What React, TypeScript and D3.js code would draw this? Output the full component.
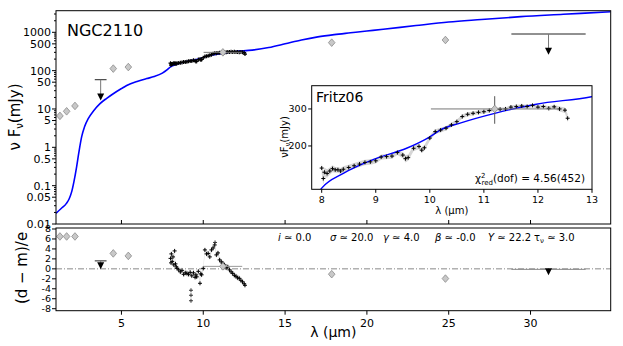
import React from "react";
import * as d3 from "d3";

const W = 623;
const H = 346;
const FONT = "DejaVu Sans, Verdana, sans-serif";

// best-fit model (blue line), wavelength in micron, flux in mJy
const modelWave = [1.0, 1.3, 1.65, 1.8, 1.96, 2.1, 2.26, 2.4, 2.57, 2.75, 2.97, 3.3, 3.69, 4.1, 4.5, 5.0, 5.32, 6.0, 6.54, 7.0, 7.5, 7.8, 8.0, 8.4, 9.0, 9.57, 10.0, 10.19, 10.56, 11.2, 11.97, 12.99, 14.0, 15.0, 16.0, 17.0, 18.0, 19.0, 20.0, 21.0, 23.0, 25.0, 27.0, 29.4, 32.0, 34.9];
const modelFlux = [0.019, 0.025, 0.035, 0.045, 0.07, 0.13, 0.31, 0.75, 1.9, 3.5, 5.6, 9, 13.8, 19, 25, 34, 41, 53, 62, 70, 86, 106, 126, 148, 174, 195, 221, 238, 257, 286, 316, 343, 400, 500, 630, 760, 870, 970, 1080, 1200, 1500, 1850, 2150, 2560, 2950, 3450];

// Fritz06 spectrum
const specWave = [8.0, 8.03, 8.05, 8.1, 8.15, 8.2, 8.25, 8.3, 8.35, 8.4, 8.5, 8.6, 8.7, 8.8, 8.9, 9.0, 9.1, 9.2, 9.3, 9.4, 9.5, 9.55, 9.6, 9.7, 9.8, 9.85, 9.9, 10.0, 10.1, 10.2, 10.3, 10.4, 10.5, 10.6, 10.7, 10.8, 10.9, 11.0, 11.1, 11.2, 11.3, 11.4, 11.5, 11.6, 11.7, 11.8, 11.9, 12.0, 12.1, 12.2, 12.3, 12.4, 12.5, 12.55];
const specFlux = [157, 140, 150, 148, 152, 156, 154, 154, 152, 155, 158, 161, 164, 167, 168, 170, 177, 178, 179, 186, 181, 174, 176, 195, 199, 191, 196, 218, 234, 238, 243, 252, 261, 276, 283, 286, 289, 291, 295, 299, 299, 300, 306, 308, 310, 308, 312, 306, 308, 302, 307, 300, 296, 271];
const specErr = [9, 9, 8, 7, 6, 6, 5, 5, 5, 5, 5, 5, 5, 5, 5, 5, 5, 5, 5, 5, 6, 7, 6, 6, 6, 6, 6, 6, 6, 6, 6, 6, 6, 6, 6, 6, 6, 6, 6, 6, 6, 6, 6, 6, 6, 6, 6, 6, 6, 7, 7, 8, 9, 12];
const specResid = [2.1, 1.2, 3.0, 1.5, 2.4, 0.8, 3.6, 1.0, 0.4, 0.1, -0.2, -0.6, -0.3, -1.1, -0.8, -0.9, -1.1, -0.7, -1.4, -0.8, -1.7, -1.2, -1.6, -0.5, -2.9, -1.0, -1.2, 0.1, 3.8, 3.0, 3.1, 2.4, 3.8, 4.2, 4.8, 2.8, 3.2, 1.8, 1.4, 1.1, 0.8, 0.2, 0.4, -0.2, -0.6, -0.9, -1.3, -1.5, -1.8, -1.9, -2.3, -2.6, -3.0, -3.3];
const outlierWave = [9.25, 9.25, 9.25, 10.72];
const outlierResid = [-4.3, -5.3, -6.4, 5.3];

// photometry (grey diamonds)
const photWave = [1.24, 1.65, 2.16, 4.5, 5.42, 11.2, 17.85, 24.8];
const photFlux = [6.6, 8.7, 12, 113, 124, 300, 537, 630];
const photErr = [0, 0, 0, 15, 18, 45, 40, 50];
const photBand = [0, 0, 0, 0, 0, 1.18, 0, 0];
const photResid = [6.5, 6.5, 6.5, 3.1, 2.6, 0.5, -1.07, -1.95];
const photResidErr = [0, 0, 0, 0.5, 0.5, 0, 0.4, 0.3];

// upper limits
const ulWave = [3.73, 31.1];
const ulFlux = [58, 903];
const ulArrowTo = [20, 310];
const ulBand = [0.36, 2.27];
const ulResid = [1.6, -0.1];
const ulResidArrow = [0.5, -0.7];

// axes
const xTicks = [5, 10, 15, 20, 25, 30];
const yTopTicks = [0.01, 0.05, 0.1, 0.5, 1, 5, 10, 50, 100, 500, 1000];
const yResTicks = [-8, -6, -4, -2, 0, 2, 4, 6, 8];
const insetXTicks = [8, 9, 10, 11, 12, 13];
const insetYTicks = [200, 300];

const paramNames = ["i", "σ", "γ", "β", "Y", "τ"];
const paramValues = ["0.0", "20.0", "4.0", "-0.0", "22.2", "3.0"];
const paramX = [278, 330, 383, 435, 488, 534];

const main = { left: 56, right: 610.7, top: 10.7, bottom: 224 };
const res = { top: 228, bottom: 310.7 };
const inset = { left: 311.7, right: 592, top: 85.7, bottom: 189.3 };

const plus = (r) => `M${-r},0H${r}M0,${-r}V${r}`;
const diamond = (w, h) => `M0,${-h}L${w},0L0,${h}L${-w},0Z`;
const caret = "M-3.5,-4L3.5,-4L0,3Z";

function App() {
  const x = d3.scaleLinear().domain([1.0, 34.9]).range([main.left, main.right]);
  const yTop = d3.scaleLog().domain([0.01, 3660]).range([main.bottom, main.top]);
  const yRes = d3.scaleLinear().domain([-8.4, 8.2]).range([res.bottom, res.top]);
  const xi = d3.scaleLinear().domain([7.815, 13]).range([inset.left, inset.right]);
  const yi = d3.scaleLog().domain([124.4, 387]).range([inset.bottom, inset.top]);

  const model = modelWave.map((w, i) => ({ w, f: modelFlux[i] }));
  const spec = specWave.map((w, i) => ({ w, f: specFlux[i], e: specErr[i], r: specResid[i] }));

  const modelLine = (sx, sy) =>
    d3.line().x((d) => sx(d.w)).y((d) => sy(d.f)).curve(d3.curveMonotoneX)(model);
  const band = (sx, sy) =>
    d3.area().x((d) => sx(d.w)).y0((d) => sy(d.f - d.e)).y1((d) => sy(d.f + d.e))(spec);
  const residBand = d3
    .area()
    .x((d) => x(d.w))
    .y0((d) => yRes(d.r - 0.6))
    .y1((d) => yRes(d.r + 0.6))(spec);

  // log minor ticks (2..9 x 10^k) that carry no label
  const minor = [];
  for (let k = -2; k <= 3; k++) {
    for (let m = 1; m <= 9; m++) {
      const v = m * Math.pow(10, k);
      if (v <= 3660 && !yTopTicks.includes(+v.toPrecision(3))) minor.push(v);
    }
  }

  return (
    <svg width={W} height={H} style={{ position: "absolute", left: 0, top: 0, background: "#fff" }} fontFamily={FONT}>
      <defs>
        <clipPath id="clipMain">
          <rect x={main.left} y={main.top} width={main.right - main.left} height={main.bottom - main.top} />
        </clipPath>
        <clipPath id="clipRes">
          <rect x={main.left} y={res.top} width={main.right - main.left} height={res.bottom - res.top} />
        </clipPath>
        <clipPath id="clipInset">
          <rect x={inset.left} y={inset.top} width={inset.right - inset.left} height={inset.bottom - inset.top} />
        </clipPath>
      </defs>

      {/* main SED panel */}
      <g clipPath="url(#clipMain)">
        <path d={modelLine(x, yTop)} fill="none" stroke="#0000ff" strokeWidth={1.6} />
        <path d={band(x, yTop)} fill="#cccccc" />
        {spec.map((d, i) => (
          <path key={`ms${i}`} d={plus(2)} transform={`translate(${x(d.w)},${yTop(d.f)})`} stroke="#000" strokeWidth={1.2} />
        ))}
        {photWave.map((w, i) => (
          <g key={`mp${i}`}>
            {photErr[i] > 0 && (
              <line x1={x(w)} x2={x(w)} y1={yTop(photFlux[i] - photErr[i])} y2={yTop(photFlux[i] + photErr[i])} stroke="#888" strokeWidth={1} />
            )}
            {photBand[i] > 0 && (
              <line x1={x(w - photBand[i])} x2={x(w + photBand[i])} y1={yTop(photFlux[i])} y2={yTop(photFlux[i])} stroke="#777" strokeWidth={1} />
            )}
            <path d={diamond(3.3, 3.8)} transform={`translate(${x(w)},${yTop(photFlux[i])})`} fill="#c8c8c8" stroke="#8a8a8a" strokeWidth={0.8} />
          </g>
        ))}
        {ulWave.map((w, i) => (
          <g key={`mu${i}`}>
            <line x1={x(w - ulBand[i])} x2={x(w + ulBand[i])} y1={yTop(ulFlux[i])} y2={yTop(ulFlux[i])} stroke="#222" strokeWidth={1} />
            <line x1={x(w)} x2={x(w)} y1={yTop(ulFlux[i])} y2={yTop(ulArrowTo[i])} stroke="#777" strokeWidth={1} />
            <path d={caret} transform={`translate(${x(w)},${yTop(ulArrowTo[i])})`} fill="#000" />
          </g>
        ))}
      </g>
      <rect x={main.left} y={main.top} width={main.right - main.left} height={main.bottom - main.top} fill="none" stroke="#000" strokeWidth={1} />
      {xTicks.map((t) => (
        <line key={`tx${t}`} x1={x(t)} x2={x(t)} y1={main.bottom} y2={main.bottom - 4} stroke="#000" />
      ))}
      {yTopTicks.map((t) => (
        <g key={`ty${t}`} transform={`translate(${main.left},${yTop(t)})`}>
          <line x1={0} x2={-4} stroke="#000" />
          <text x={-5} dy="0.35em" textAnchor="end" fontSize={11}>{t}</text>
        </g>
      ))}
      {minor.map((t, i) => (
        <line key={`mn${i}`} x1={main.left} x2={main.left - 2} y1={yTop(t)} y2={yTop(t)} stroke="#000" />
      ))}
      <text x={67} y={36} fontSize={16}>NGC2110</text>
      <text transform={`translate(20,117) rotate(-90)`} textAnchor="middle" fontSize={15}>
        ν F<tspan dy={3} fontSize={10}>ν</tspan><tspan dy={-3}>(mJy)</tspan>
      </text>

      {/* inset */}
      <rect x={inset.left} y={inset.top} width={inset.right - inset.left} height={inset.bottom - inset.top} fill="#fff" />
      <g clipPath="url(#clipInset)">
        <path d={band(xi, yi)} fill="#d6d6d6" />
        <path d={modelLine(xi, yi)} fill="none" stroke="#0000ff" strokeWidth={1.4} />
        {spec.map((d, i) => (
          <path key={`is${i}`} d={plus(2)} transform={`translate(${xi(d.w)},${yi(d.f)})`} stroke="#000" strokeWidth={1} />
        ))}
        {photWave.map((w, i) =>
          photBand[i] > 0 ? (
            <g key={`ip${i}`}>
              <line x1={xi(w - photBand[i])} x2={xi(w + photBand[i])} y1={yi(photFlux[i])} y2={yi(photFlux[i])} stroke="#777" />
              <line x1={xi(w)} x2={xi(w)} y1={yi(photFlux[i] - photErr[i])} y2={yi(photFlux[i] + photErr[i])} stroke="#555" />
              <path d={diamond(3.3, 3.8)} transform={`translate(${xi(w)},${yi(photFlux[i])})`} fill="#c8c8c8" stroke="#8a8a8a" strokeWidth={0.8} />
            </g>
          ) : null
        )}
      </g>
      <rect x={inset.left} y={inset.top} width={inset.right - inset.left} height={inset.bottom - inset.top} fill="none" stroke="#000" strokeWidth={1} />
      {insetXTicks.map((t) => (
        <g key={`ix${t}`} transform={`translate(${xi(t)},${inset.bottom})`}>
          <line y1={0} y2={3.5} stroke="#000" />
          <text y={14} textAnchor="middle" fontSize={9.5}>{t}</text>
        </g>
      ))}
      {insetYTicks.map((t) => (
        <g key={`iy${t}`} transform={`translate(${inset.left},${yi(t)})`}>
          <line x1={0} x2={-3.5} stroke="#000" />
          <text x={-5} dy="0.35em" textAnchor="end" fontSize={9.5}>{t}</text>
        </g>
      ))}
      <text x={316} y={102} fontSize={14}>Fritz06</text>
      <text x={(inset.left + inset.right) / 2} y={214} textAnchor="middle" fontSize={10}>λ (µm)</text>
      <text transform={`translate(288,137) rotate(-90)`} textAnchor="middle" fontSize={10}>
        νF<tspan dy={2} fontSize={7}>ν</tspan><tspan dy={-2}>(mJy)</tspan>
      </text>
      <text x={585} y={182} textAnchor="end" fontSize={10.5}>
        χ<tspan dy={-4} fontSize={7}>2</tspan><tspan dx={-4} dy={7} fontSize={7}>red</tspan><tspan dy={-3}>(dof) = 4.56(452)</tspan>
      </text>

      {/* residual panel */}
      <line x1={main.left} x2={main.right} y1={yRes(0)} y2={yRes(0)} stroke="#888" strokeWidth={1} strokeDasharray="6,2,1,2" />
      <g clipPath="url(#clipRes)">
        <path d={residBand} fill="#e2e2e2" />
        {spec.map((d, i) => (
          <path key={`rs${i}`} d={plus(2)} transform={`translate(${x(d.w)},${yRes(d.r)})`} stroke="#000" strokeWidth={1} />
        ))}
        {outlierWave.map((w, i) => (
          <path key={`ro${i}`} d={plus(2)} transform={`translate(${x(w)},${yRes(outlierResid[i])})`} stroke="#333" strokeWidth={1} />
        ))}
        {photWave.map((w, i) => (
          <g key={`rp${i}`}>
            {photResidErr[i] > 0 && (
              <line x1={x(w)} x2={x(w)} y1={yRes(photResid[i] - photResidErr[i])} y2={yRes(photResid[i] + photResidErr[i])} stroke="#888" />
            )}
            {photBand[i] > 0 && (
              <line x1={x(w - photBand[i])} x2={x(w + photBand[i])} y1={yRes(photResid[i])} y2={yRes(photResid[i])} stroke="#999" />
            )}
            <path d={diamond(3.3, 3.8)} transform={`translate(${x(w)},${yRes(photResid[i])})`} fill="#c8c8c8" stroke="#8a8a8a" strokeWidth={0.8} />
          </g>
        ))}
        {ulWave.map((w, i) => (
          <g key={`ru${i}`}>
            <line x1={x(w - ulBand[i])} x2={x(w + ulBand[i])} y1={yRes(ulResid[i])} y2={yRes(ulResid[i])} stroke={i === 0 ? "#222" : "#888"} strokeWidth={1} />
            <line x1={x(w)} x2={x(w)} y1={yRes(ulResid[i])} y2={yRes(ulResidArrow[i])} stroke="#777" />
            <path d={caret} transform={`translate(${x(w)},${yRes(ulResidArrow[i])})`} fill="#000" />
          </g>
        ))}
      </g>
      <rect x={main.left} y={res.top} width={main.right - main.left} height={res.bottom - res.top} fill="none" stroke="#000" strokeWidth={1} />
      {xTicks.map((t) => (
        <g key={`rx${t}`} transform={`translate(${x(t)},${res.bottom})`}>
          <line y1={0} y2={4} stroke="#000" />
          <text y={16} textAnchor="middle" fontSize={11}>{t}</text>
        </g>
      ))}
      {yResTicks.map((t) => (
        <g key={`ry${t}`} transform={`translate(${main.left},${yRes(t)})`}>
          <line x1={0} x2={-4} stroke="#000" />
          <text x={-5} dy="0.35em" textAnchor="end" fontSize={9.5}>{t}</text>
        </g>
      ))}
      {paramNames.map((n, i) => (
        <text key={`pn${i}`} x={paramX[i]} y={241} fontSize={10}>
          <tspan fontStyle={n === "τ" ? "normal" : "italic"}>{n}</tspan>
          {n === "τ" && <tspan dy={2} fontSize={7}>ν</tspan>}
          <tspan dy={n === "τ" ? -2 : 0}>{` ≃ ${paramValues[i]}`}</tspan>
        </text>
      ))}
      <text x={(main.left + main.right) / 2} y={337} textAnchor="middle" fontSize={14}>λ (µm)</text>
      <text transform={`translate(27,268) rotate(-90)`} textAnchor="middle" fontSize={15}>(d − m)/e</text>
    </svg>
  );
}

export default App;
